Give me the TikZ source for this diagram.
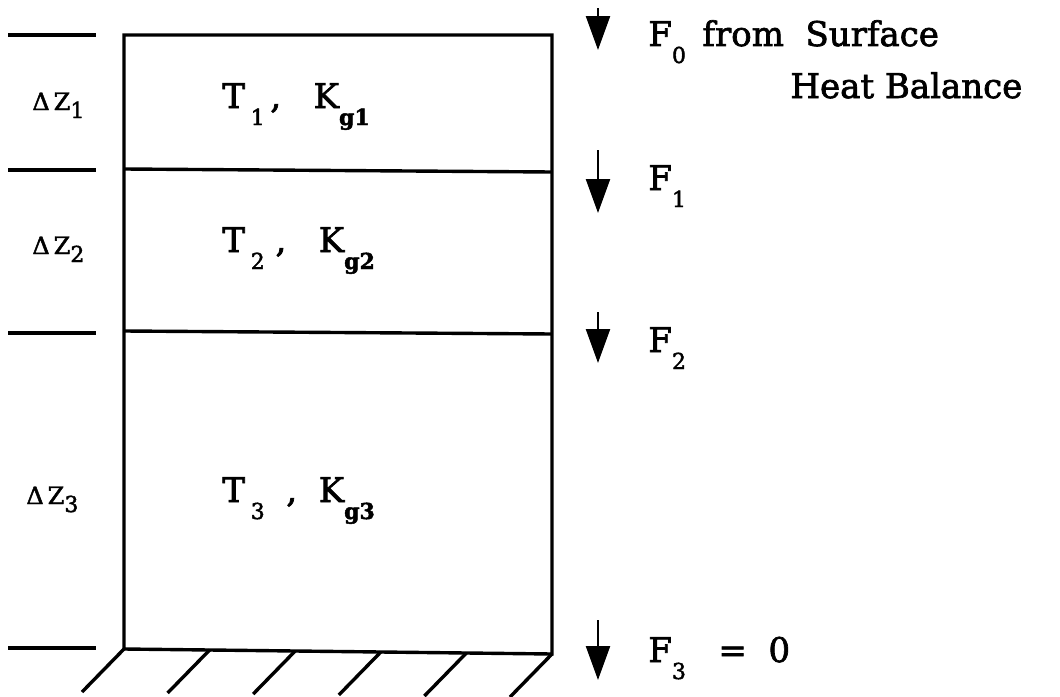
\documentclass[tikz,border=0pt]{standalone}
\usepackage{fontspec}
\setmainfont{DejaVu Serif}[FakeBold=2]
\usetikzlibrary{arrows.meta,calc}
\newcommand\lowsub[1]{\raisebox{-8.5pt}{\fontsize{11}{13}\selectfont #1}}
\newcommand\zsub[1]{\raisebox{-4pt}{\fontsize{11}{13}\selectfont #1}}
\begin{document}
\begin{tikzpicture}[x=0.5pt,y=-0.5pt,
  wall/.style={line width=1.7pt},
  tick/.style={line width=1.7pt},
  hatch/.style={line width=1.7pt},
  flux/.style={line width=1.2pt,-{Triangle[length=17pt,width=12pt]}},
  big/.style={font=\fontsize{17}{20}\selectfont, inner sep=0pt, anchor=base west},
  small/.style={font=\fontsize{12}{14}\selectfont, inner sep=0pt, anchor=base west}]
\useasboundingbox (0,0) rectangle (1060,696);
% box corners
\coordinate (tl) at (124,35);
\coordinate (tr) at (552,35);
\coordinate (bl) at (124,649);
\coordinate (br) at (552,654);
\coordinate (l1) at (124,169);
\coordinate (r1) at (552,172);
\coordinate (l2) at (124,331);
\coordinate (r2) at (552,334);
\draw[wall,line join=miter] (bl) -- (tl) -- (tr) -- (br) -- cycle;
\draw[wall] (l1) -- (r1);
\draw[wall] (l2) -- (r2);
% left ticks
\foreach \y [count=\i] in {35,170,333,648}{
  \coordinate (ta\i) at (8,\y);
  \coordinate (tb\i) at (96,\y);
  \draw[tick] (ta\i) -- (tb\i);
}
% hatching
\foreach \i in {0,...,5}{
  \coordinate (ha\i) at ($(bl)!\i/5!(br)$);
  \coordinate (hb\i) at ($(ha\i)+(-42,43)$);
  \draw[hatch] (ha\i) -- (hb\i);
}
% layer labels
\node[small] (dz1) at (32,110) {Δ\,Z\zsub{1}};
\node[small] (dz2) at (32,254) {Δ\,Z\zsub{2}};
\node[small] (dz3) at (26,504) {Δ\,Z\zsub{3}};
\node[big] (t1) at (222,108) {T\,\lowsub{1}\,,\ \ \ K\lowsub{\textbf{g1}}};
\node[big] (t2) at (222,252) {T\,\lowsub{2}\ ,\ \ \ K\lowsub{\textbf{g2}}};
\node[big] (t3) at (222,502) {T\,\lowsub{3}\ \ ,\ \ K\lowsub{\textbf{g3}}};
% fluxes
\foreach \a/\b [count=\i from 0] in {8/50,150/213,312/363,620/680}{
  \coordinate (fa\i) at (598,\a);
  \coordinate (fb\i) at (598,\b);
  \draw[flux] (fa\i) -- (fb\i);
}
\node[big] (f0) at (648,46) {F\lowsub{0}};
\node[big] (from) at (702,46) {from\ \ Surface};
\node[big] (heat) at (790,98) {Heat Balance};
\node[big] (f1) at (648,190) {F\lowsub{1}};
\node[big] (f2) at (648,352) {F\lowsub{2}};
\node[big] (f3) at (648,662) {F\lowsub{3}\ \ \ =\ \ 0};
\end{tikzpicture}
\end{document}
